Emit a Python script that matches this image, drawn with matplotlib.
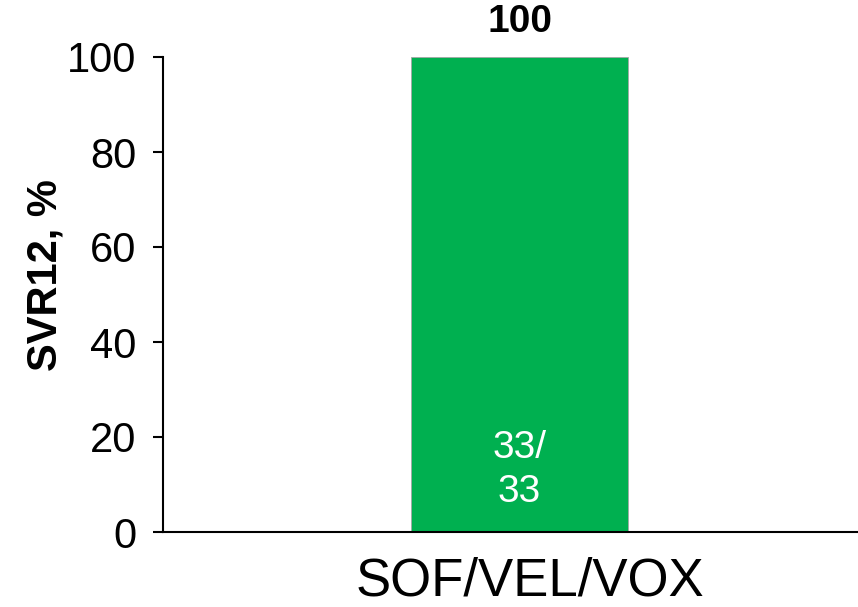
import matplotlib
matplotlib.use("Agg")
import matplotlib.pyplot as plt
import matplotlib.transforms as mtransforms

categories = ["SOF/VEL/VOX"]
svr12_pct = [100]
responders = [33]
totals = [33]
y_ticks = [0, 20, 40, 60, 80, 100]

plt.rcParams["font.family"] = ["Liberation Sans", "DejaVu Sans"]

fig = plt.figure(figsize=(8.58, 6.07), dpi=100)
ax = fig.add_axes([163 / 858, 75 / 607, 695 / 858, (532 - 57) / 607])

x = list(range(len(categories)))
bars = ax.bar(x, svr12_pct, width=0.6, color="#00B050", edgecolor="#A6A6A6", linewidth=0.6, zorder=2)

for xi, v, n, d in zip(x, svr12_pct, responders, totals):
    ax.annotate(f"{v}", (xi, v), xytext=(0, 12), textcoords="offset points",
                ha="center", va="bottom", fontsize=28, fontweight="bold",
                color="black", annotation_clip=False)
    ax.text(xi, 13.0, f"{n}/\n{d}", ha="center", va="center", fontsize=28,
            color="white", linespacing=1.28)

ax.set_xlim(-0.986, 0.936)
ax.set_ylim(0, 100)
ax.set_yticks(y_ticks)
ax.set_xticks(x)
ax.set_xticklabels(categories, fontsize=38)
ax.tick_params(axis="x", length=0, pad=18)
ax.tick_params(axis="y", length=7, width=1.5, labelsize=30, pad=12, direction="out")
ax.set_ylabel("SVR12, %", fontsize=30, fontweight="bold", labelpad=1, y=0.54)

# nudge the category label slightly to the right
shift = mtransforms.ScaledTranslation(10 / 100, 0, fig.dpi_scale_trans)
for lbl in ax.get_xticklabels():
    lbl.set_transform(lbl.get_transform() + shift)

for side in ["top", "right"]:
    ax.spines[side].set_visible(False)
for side in ["left", "bottom"]:
    ax.spines[side].set_linewidth(1.5)
    ax.spines[side].set_color("black")

fig.savefig("out.png", dpi=100)
